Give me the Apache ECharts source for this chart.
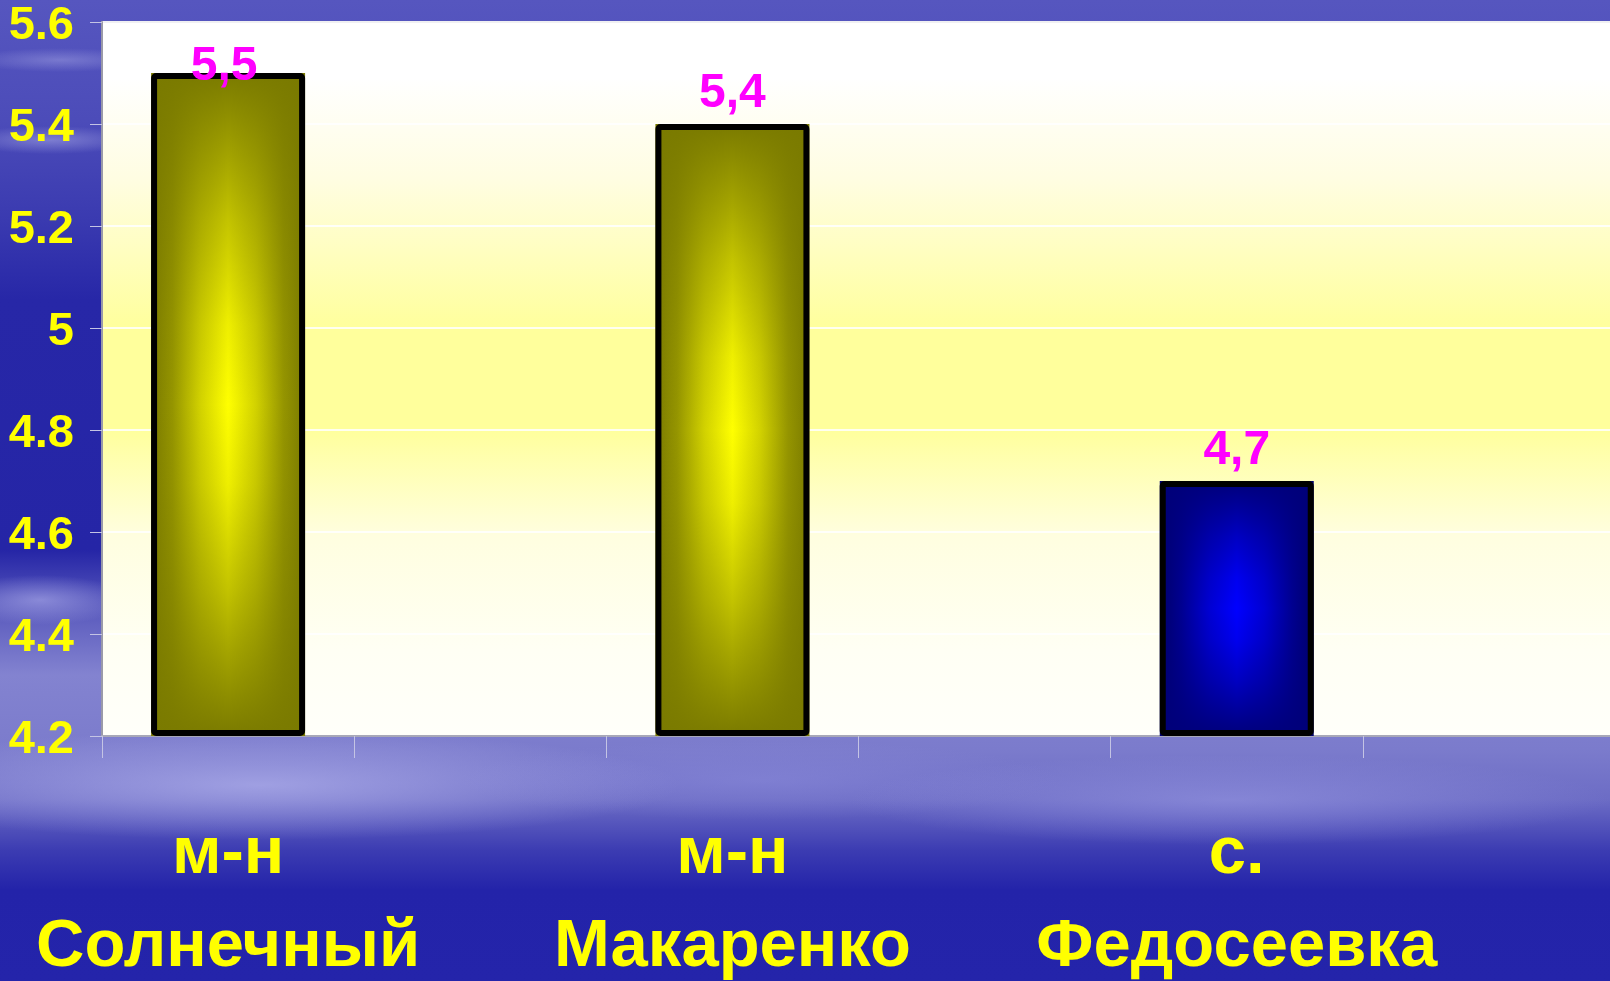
<!DOCTYPE html>
<html>
<head>
<meta charset="utf-8">
<script src="https://cdn.jsdelivr.net/npm/echarts@6/dist/echarts.min.js"></script>
<style>
html, body { margin:0; padding:0; width:1610px; height:981px; overflow:hidden; }
body {
  background:
    radial-gradient(ellipse 420px 55px at 260px 785px, rgba(175,175,235,0.75), rgba(175,175,235,0) 100%),
    radial-gradient(ellipse 380px 45px at 1230px 800px, rgba(150,150,225,0.6), rgba(150,150,225,0) 100%),
    radial-gradient(ellipse 300px 40px at 760px 780px, rgba(140,140,220,0.5), rgba(140,140,220,0) 100%),
    radial-gradient(ellipse 90px 25px at 40px 600px, rgba(175,175,235,0.6), rgba(175,175,235,0) 100%),
    radial-gradient(ellipse 90px 14px at 50px 140px, rgba(160,160,225,0.6), rgba(160,160,225,0) 100%),
    radial-gradient(ellipse 90px 12px at 60px 60px, rgba(160,160,225,0.5), rgba(160,160,225,0) 100%),
    linear-gradient(to bottom, #5656bf 0px, #4c4cb9 120px, #3a3ab0 220px, #2727a7 300px, #2525a6 550px, #5a5abd 610px, #8383d0 675px, #7b7bcc 750px, #6c6cc5 800px, #3c3cb2 850px, #2323a9 890px, #2424aa 981px);
}
#chart { width:1610px; height:981px; }
</style>
</head>
<body>
<div id="chart"></div>
<script>
// ---- data ----
var categories = ['м-н\nСолнечный', '', 'м-н\nМакаренко', '', 'с.\nФедосеевка', ''];
var values = [5.5, null, 5.4, null, 4.7, null];
var yTicks = { min: 4.2, max: 5.6, interval: 0.2 };

// ---- styles (separate from data) ----
var barThemes = [
  { edge: '#7a7a00', e2: '#959500', mid: '#d2d200', center: '#ffff00', dark: 'rgba(122,122,0,' },
  null,
  { edge: '#7a7a00', e2: '#959500', mid: '#d2d200', center: '#ffff00', dark: 'rgba(122,122,0,' },
  null,
  { edge: '#00006a', e2: '#000090', mid: '#0000d2', center: '#0000ff', dark: 'rgba(0,0,122,' },
  null
];

function hGrad(t) {
  return new echarts.graphic.LinearGradient(0, 0, 1, 0, [
    { offset: 0, color: t.edge },
    { offset: 0.14, color: t.e2 },
    { offset: 0.32, color: t.mid },
    { offset: 0.5, color: t.center },
    { offset: 0.68, color: t.mid },
    { offset: 0.86, color: t.e2 },
    { offset: 1, color: t.edge }
  ]);
}
function vGrad(t) {
  return new echarts.graphic.LinearGradient(0, 0, 0, 1, [
    { offset: 0, color: t.dark + '1)' },
    { offset: 0.08, color: t.dark + '0.8)' },
    { offset: 0.22, color: t.dark + '0.45)' },
    { offset: 0.38, color: t.dark + '0.12)' },
    { offset: 0.5, color: t.dark + '0)' },
    { offset: 0.62, color: t.dark + '0.12)' },
    { offset: 0.78, color: t.dark + '0.45)' },
    { offset: 0.92, color: t.dark + '0.8)' },
    { offset: 1, color: t.dark + '1)' }
  ]);
}

var baseData = values.map(function (v, i) {
  if (v == null) return null;
  return { value: v, itemStyle: { color: hGrad(barThemes[i]) } };
});
var overData = values.map(function (v, i) {
  if (v == null) return null;
  var item = { value: v, itemStyle: { color: vGrad(barThemes[i]) } };
  if (i === 0) item.label = { offset: [-4, 24] };
  return item;
});

var FONT = '"Liberation Sans", Arial, sans-serif';
var chart = echarts.init(document.getElementById('chart'), null, { renderer: 'canvas' });
chart.setOption({
  backgroundColor: 'transparent',
  animation: false,
  grid: {
    left: 102, top: 22, right: -5, bottom: 245,
    containLabel: false,
    outerBoundsMode: 'none',
    show: true,
    borderColor: '#9a9aa8', borderWidth: 2,
    backgroundColor: new echarts.graphic.LinearGradient(0, 0, 0, 1, [
      { offset: 0, color: '#ffffff' },
      { offset: 0.08, color: '#ffffff' },
      { offset: 0.22, color: '#fffde2' },
      { offset: 0.43, color: '#ffff9c' },
      { offset: 0.57, color: '#ffff9c' },
      { offset: 0.72, color: '#fffee0' },
      { offset: 0.88, color: '#fffff4' },
      { offset: 1, color: '#fffffa' }
    ])
  },
  xAxis: {
    type: 'category',
    data: categories,
    boundaryGap: true,
    axisLine: { show: true, lineStyle: { color: '#a8a8b8', width: 2 } },
    axisTick: { show: true, interval: 0, length: 22, lineStyle: { color: '#c4c4e4', width: 1 } },
    axisLabel: {
      interval: 0, margin: 72,
      color: '#ffff00', fontFamily: FONT, fontWeight: 'bold',
      fontSize: 67, lineHeight: 93
    },
    splitLine: { show: false }
  },
  yAxis: {
    type: 'value',
    min: yTicks.min, max: yTicks.max, interval: yTicks.interval,
    startValue: yTicks.min,
    axisLine: { show: true, lineStyle: { color: '#9a9aa8', width: 2 } },
    axisTick: { show: true, length: 12, lineStyle: { color: '#c4c4e4', width: 1 } },
    axisLabel: {
      margin: 28, color: '#ffff00', fontFamily: FONT, fontWeight: 'bold',
      fontSize: 47, verticalAlign: 'top', lineHeight: 8,
      formatter: function (v) { return String(Math.round(v * 10) / 10); }
    },
    splitLine: { show: true, lineStyle: { color: 'rgba(255,255,255,0.85)', width: 2 } }
  },
  series: [
    {
      type: 'bar', data: baseData, barWidth: 154, barGap: '-100%',
      silent: true, z: 2
    },
    {
      type: 'bar', data: overData, barWidth: 154, barGap: '-100%', z: 3,
      itemStyle: { borderColor: '#000000', borderWidth: 6, borderRadius: 2 },
      label: {
        show: true, position: 'top', distance: 6,
        color: '#ff00ff', fontFamily: FONT, fontWeight: 'bold', fontSize: 48,
        formatter: function (p) { return String(p.value).replace('.', ','); }
      }
    }
  ]
});
</script>
</body>
</html>
